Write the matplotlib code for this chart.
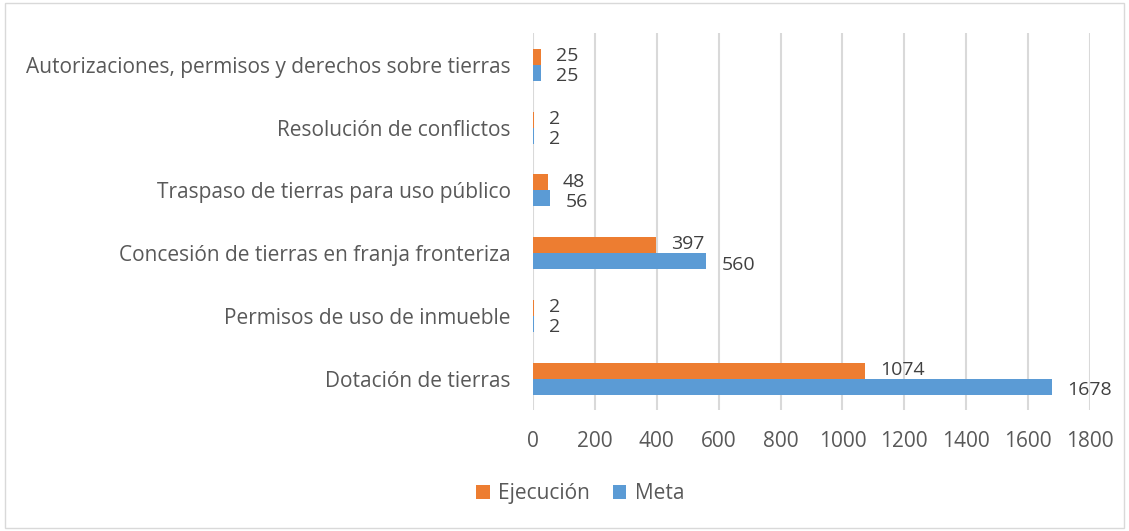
import matplotlib
matplotlib.use("Agg")
import matplotlib.pyplot as plt
from matplotlib.patches import Rectangle
import numpy as np

categories = ["Dotación de tierras", "Permisos de uso de inmueble",
              "Concesión de tierras en franja fronteriza",
              "Traspaso de tierras para uso público",
              "Resolución de conflictos",
              "Autorizaciones, permisos y derechos sobre tierras"]
ejecucion = [1074, 2, 397, 48, 2, 25]
meta = [1678, 2, 560, 56, 2, 25]
xticks = [0, 200, 400, 600, 800, 1000, 1200, 1400, 1600, 1800]

plt.rcParams['font.family'] = ['Open Sans', 'DejaVu Sans']
TXT = '#595959'
ORANGE = '#ED7D31'
BLUE = '#5B9BD5'

fig = plt.figure(figsize=(11.29, 5.31), dpi=100)
ax = fig.add_axes([0.472, 0.228, 0.4935, 0.709])

y = np.arange(len(categories))
h = 0.255
b1 = ax.barh(y + h / 2, ejecucion, height=h, color=ORANGE, label='Ejecución', zorder=3)
b2 = ax.barh(y - h / 2, meta, height=h, color=BLUE, label='Meta', zorder=3)

for yi, v in zip(y, ejecucion):
    ax.annotate(str(v), (v, yi + h / 2), xytext=(11, 0.5), textcoords='offset points',
                ha='left', va='center', fontsize=14, color='#404040')
for yi, v in zip(y, meta):
    ax.annotate(str(v), (v, yi - h / 2), xytext=(11, -2.5), textcoords='offset points',
                ha='left', va='center', fontsize=14, color='#404040')

ax.set_xlim(0, 1800)
ax.set_ylim(-0.5, len(categories) - 0.5)
ax.set_xticks(xticks)
ax.set_yticks(y)
ax.set_yticklabels(categories)
ax.tick_params(axis='both', length=0, labelsize=15, colors=TXT)
ax.tick_params(axis='x', pad=15)
ax.tick_params(axis='y', pad=16)
ax.grid(axis='x', color='#D9D9D9', linewidth=1.5, zorder=0)
for s in ax.spines.values():
    s.set_visible(False)

leg = fig.legend(handles=[b1, b2], labels=['Ejecución', 'Meta'], loc='center',
                 bbox_to_anchor=(0.514, 0.07), ncol=2, frameon=False, fontsize=15,
                 handlelength=0.65, handleheight=0.65, handletextpad=0.4, columnspacing=1.1)
for t in leg.get_texts():
    t.set_color(TXT)

fig.patches.append(Rectangle((0.004, 0.006), 0.992, 0.988, transform=fig.transFigure,
                             fill=False, edgecolor='#D9D9D9', linewidth=1))
fig.savefig('out.png', dpi=100, facecolor='white')
